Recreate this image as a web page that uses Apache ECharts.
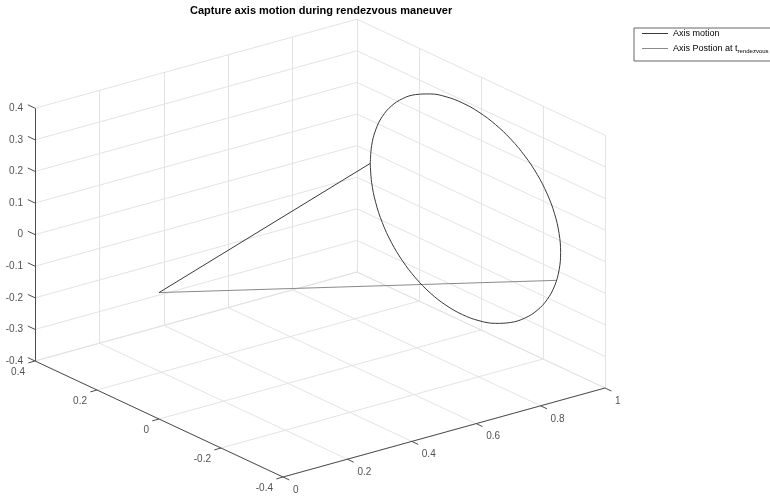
<!DOCTYPE html>
<html>
<head>
<meta charset="utf-8">
<script src="https://cdn.jsdelivr.net/npm/echarts@6/dist/echarts.min.js"></script>
<style>
  html, body { margin: 0; padding: 0; background: #fff; }
  #chart { width: 770px; height: 496px; }
</style>
</head>
<body>
<div id="chart"></div>
<script>
// axis ticks
var xTicks = [0, 0.2, 0.4, 0.6, 0.8, 1];
var yTicks = [-0.4, -0.2, 0, 0.2, 0.4];
var zTicks = [-0.4, -0.3, -0.2, -0.1, 0, 0.1, 0.2, 0.3, 0.4];
var xLabels = ['0', '0.2', '0.4', '0.6', '0.8', '1'];
var yLabels = ['-0.4', '-0.2', '0', '0.2', '0.4'];
var zLabels = ['-0.4', '-0.3', '-0.2', '-0.1', '0', '0.1', '0.2', '0.3', '0.4'];

// tip of the capture axis during the motion
var motionX = [0.9517, 0.9514, 0.9506, 0.9493, 0.9478, 0.9462, 0.9446, 0.9433, 0.9425, 0.9422,
               0.9425, 0.9433, 0.9446, 0.9462, 0.9478, 0.9493, 0.9506, 0.9514, 0.9517,
               0.9514, 0.9506, 0.9493, 0.9478, 0.9462, 0.9446, 0.9433, 0.9425, 0.9422,
               0.9425, 0.9433, 0.9446, 0.9462, 0.9478, 0.9493, 0.9506, 0.9514, 0.9517];
var motionY = [0.3070, 0.3023, 0.2885, 0.2659, 0.2352, 0.1973, 0.1535, 0.1050, 0.0533, 0,
               -0.0533, -0.1050, -0.1535, -0.1973, -0.2352, -0.2659, -0.2885, -0.3023, -0.3070,
               -0.3023, -0.2885, -0.2659, -0.2352, -0.1973, -0.1535, -0.1050, -0.0533, 0,
               0.0533, 0.1050, 0.1535, 0.1973, 0.2352, 0.2659, 0.2885, 0.3023, 0.3070];
var motionZ = [0, 0.0582, 0.1146, 0.1675, 0.2153, 0.2566, 0.2901, 0.3148, 0.3299, 0.3350,
               0.3299, 0.3148, 0.2901, 0.2566, 0.2153, 0.1675, 0.1146, 0.0582, 0,
               -0.0582, -0.1146, -0.1675, -0.2153, -0.2566, -0.2901, -0.3148, -0.3299, -0.3350,
               -0.3299, -0.3148, -0.2901, -0.2566, -0.2153, -0.1675, -0.1146, -0.0582, 0];
var axisOrigin = [0, 0, 0];
var rendezvousPos = [0.950, -0.296, -0.093];

var xMin = xTicks[0], xMax = xTicks[xTicks.length - 1];
var yMin = yTicks[0], yMax = yTicks[yTicks.length - 1];
var zMin = zTicks[0], zMax = zTicks[zTicks.length - 1];

// view (az -37.5, el 30): screen position of the front corner + per-unit screen vectors
var P0 = [283, 477];
var EX = [322, -89], EY = [-310, -145], EZ = [0, -316];
function proj(x, y, z) {
  var dx = x - xMin, dy = y - yMin, dz = z - zMin;
  return [P0[0] + EX[0] * dx + EY[0] * dy + EZ[0] * dz,
          P0[1] + EX[1] * dx + EY[1] * dy + EZ[1] * dz];
}
function seg(a, b) { return { coords: [proj(a[0], a[1], a[2]), proj(b[0], b[1], b[2])] }; }

// back walls grid
var gridSegs = [];
xTicks.forEach(function (x) {
  gridSegs.push(seg([x, yMin, zMin], [x, yMax, zMin]));
  gridSegs.push(seg([x, yMax, zMin], [x, yMax, zMax]));
});
yTicks.forEach(function (y) {
  gridSegs.push(seg([xMin, y, zMin], [xMax, y, zMin]));
  gridSegs.push(seg([xMax, y, zMin], [xMax, y, zMax]));
});
zTicks.forEach(function (z) {
  gridSegs.push(seg([xMin, yMax, z], [xMax, yMax, z]));
  gridSegs.push(seg([xMax, yMin, z], [xMax, yMax, z]));
});

// axis lines and ticks
function tick(p, d) { return { coords: [p, [p[0] + d[0], p[1] + d[1]]] }; }
var axisSegs = [
  seg([xMin, yMin, zMin], [xMax, yMin, zMin]),
  seg([xMin, yMin, zMin], [xMin, yMax, zMin]),
  seg([xMin, yMax, zMin], [xMin, yMax, zMax])
];
xTicks.forEach(function (x) { axisSegs.push(tick(proj(x, yMin, zMin), [6.3, 3])); });
yTicks.forEach(function (y) { axisSegs.push(tick(proj(xMin, y, zMin), [-6.7, 1.9])); });
zTicks.forEach(function (z) { axisSegs.push(tick(proj(xMin, yMax, z), [-7.2, -3.4])); });

function labelSeries(pts, names, lab) {
  return {
    type: 'scatter', silent: true, symbolSize: 1, itemStyle: { color: 'transparent' },
    data: pts.map(function (p, i) { return { value: p, name: names[i] }; }),
    label: Object.assign({
      show: true, formatter: '{b}', position: 'inside', verticalAlign: 'middle',
      color: '#262626', fontSize: 10, fontFamily: 'Liberation Sans'
    }, lab)
  };
}

var circlePts = motionX.map(function (x, i) { return proj(x, motionY[i], motionZ[i]); });
var originPt = proj(axisOrigin[0], axisOrigin[1], axisOrigin[2]);

var chart = echarts.init(document.getElementById('chart'));
chart.setOption({
  animation: false,
  backgroundColor: '#fff',
  title: {
    text: 'Capture axis motion during rendezvous maneuver',
    left: 190, top: 5, padding: 0,
    textStyle: { fontSize: 11, fontWeight: 'bold', color: '#000', fontFamily: 'Liberation Sans' }
  },
  legend: {
    left: 634, top: 28, orient: 'vertical',
    icon: 'rect', itemWidth: 26, itemHeight: 1, itemGap: 5,
    padding: [1, 8, 7, 8],
    borderColor: '#666', borderWidth: 1, borderRadius: 0, backgroundColor: '#fff',
    data: ['Axis motion', 'Axis Postion at t'],
    formatter: function (name) {
      return name === 'Axis motion' ? '{n|' + name + '}' : '{n|' + name + '}{s|rendezvous}';
    },
    textStyle: {
      color: '#000', fontSize: 9, fontFamily: 'Liberation Sans',
      rich: {
        n: { fontSize: 9, color: '#000', lineHeight: 11 },
        s: { fontSize: 6, color: '#000', lineHeight: 11, padding: [5, 0, 0, 0] }
      }
    }
  },
  grid: { left: 0, right: 0, top: 0, bottom: 0 },
  xAxis: { type: 'value', min: 0, max: 770, show: false },
  yAxis: { type: 'value', min: 0, max: 496, inverse: true, show: false },
  series: [
    { type: 'lines', coordinateSystem: 'cartesian2d', silent: true, z: 1,
      data: gridSegs, lineStyle: { color: '#e3e3e3', width: 1, opacity: 1 } },
    { type: 'lines', coordinateSystem: 'cartesian2d', silent: true, z: 2,
      data: axisSegs, lineStyle: { color: '#4d4d4d', width: 1, opacity: 1 } },
    labelSeries(zTicks.map(function (z) { return proj(xMin, yMax, z); }), zLabels,
      { align: 'right', offset: [-12, 0] }),
    labelSeries(yTicks.map(function (y) { return proj(xMin, y, zMin); }), yLabels,
      { align: 'right', offset: [-10, 11] }),
    labelSeries(xTicks.map(function (x) { return proj(x, yMin, zMin); }), xLabels,
      { align: 'left', offset: [10, 13] }),
    { name: 'Axis motion', type: 'line', symbol: 'none', z: 5,
      data: [originPt, circlePts[0]],
      lineStyle: { color: '#3a3a3a', width: 1 }, itemStyle: { color: '#3a3a3a' } },
    { name: 'Axis motion', type: 'line', symbol: 'none', smooth: 0.4, z: 5,
      data: circlePts,
      lineStyle: { color: '#3a3a3a', width: 1 }, itemStyle: { color: '#3a3a3a' } },
    { name: 'Axis Postion at t', type: 'line', symbol: 'none', z: 4,
      data: [originPt, proj(rendezvousPos[0], rendezvousPos[1], rendezvousPos[2])],
      lineStyle: { color: '#8a8a8a', width: 1 }, itemStyle: { color: '#8a8a8a' } }
  ]
});
</script>
</body>
</html>
